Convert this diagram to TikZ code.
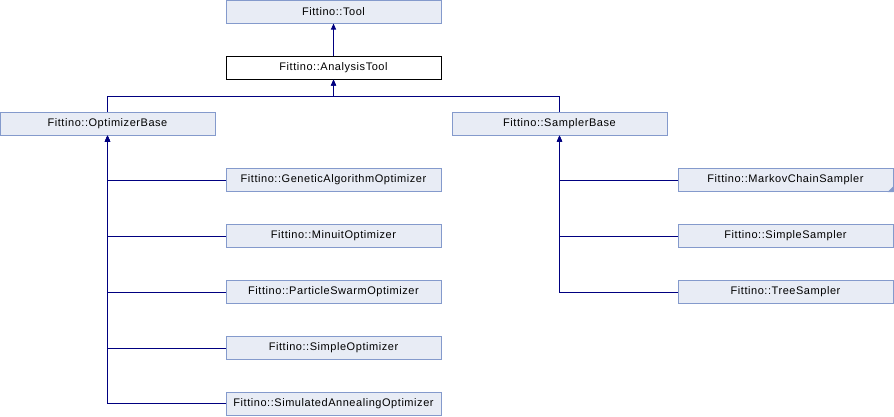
\documentclass[tikz,border=0pt]{standalone}
\usepackage{fontspec}
\setmainfont{Liberation Sans}[LetterSpace = 5]
\usetikzlibrary{arrows.meta}
\definecolor{boxfill}{RGB}{232,236,245}
\definecolor{boxline}{RGB}{132,154,204}
\definecolor{edgeblue}{RGB}{0,0,128}
\tikzset{
    cls/.style = {draw = boxline, fill = boxfill, line width = 1pt,
        minimum width = 215pt, minimum height = 23pt, inner sep = 0pt,
        font = \fontsize{11pt}{13pt}\selectfont},
    here/.style = {cls, draw = black, fill = white},
    inherit/.style = {draw = edgeblue, line width = 1pt,
        -{Triangle[length = 6pt, width = 5pt]}}
}

\begin{document}
\begin{tikzpicture}[x = 1pt, y = -1pt]
    \useasboundingbox (0,0) rectangle (894,416);

    % top of the tree
    \node [cls] (tool) at (333.5, 11.5) {Fittino::Tool};
    \node [here] (ana) at (333.5, 67.5) {Fittino::AnalysisTool};

    % the two bases
    \node [cls] (optbase) at (107.5, 123.5) {Fittino::OptimizerBase};
    \node [cls] (sampbase) at (559.5, 123.5) {Fittino::SamplerBase};

    % optimizers
    \node [cls] (gao) at (333.5, 180) {Fittino::GeneticAlgorithmOptimizer};
    \node [cls] (mo) at (333.5, 236) {Fittino::MinuitOptimizer};
    \node [cls] (pso) at (333.5, 292) {Fittino::ParticleSwarmOptimizer};
    \node [cls] (so) at (333.5, 348) {Fittino::SimpleOptimizer};
    \node [cls] (sao) at (333.5, 403.5) {Fittino::SimulatedAnnealingOptimizer};

    % samplers
    \node [cls] (mcs) at (785.5, 180) {Fittino::MarkovChainSampler};
    \node [cls] (ss) at (785.5, 236) {Fittino::SimpleSampler};
    \node [cls] (ts) at (785.5, 292) {Fittino::TreeSampler};
    % little corner mark, there are more classes below
    \fill [boxline] (mcs.south east) -- ++(-6, 0) -- ++(6, -6) -- cycle;

    % edges
    \draw [inherit] (ana.north) -- (tool.south);
    \coordinate (bar) at ([yshift = -17pt] ana.south);
    \draw [inherit] (optbase.north) |- (bar) -- (ana.south);
    \draw [inherit] (sampbase.north) |- (bar) -- (ana.south);

    \foreach \c in {gao, mo, pso, so, sao}
        \draw [inherit] (\c.west) -| (optbase.south);
    \foreach \c in {mcs, ss, ts}
        \draw [inherit] (\c.west) -| (sampbase.south);
\end{tikzpicture}
\end{document}
